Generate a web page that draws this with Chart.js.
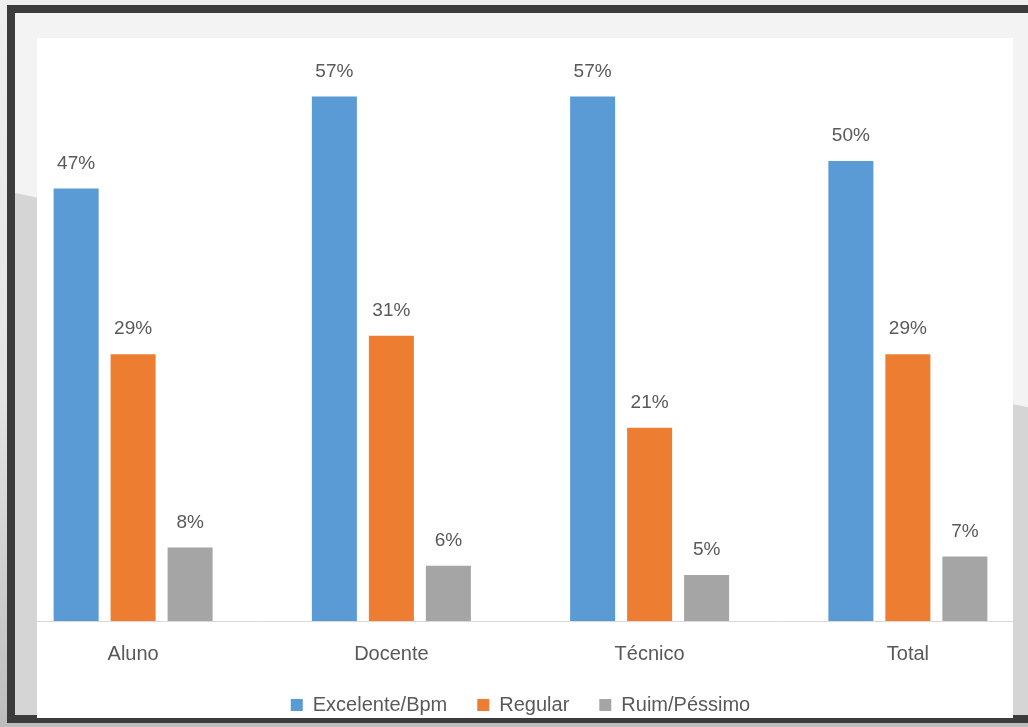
<!DOCTYPE html>
<html>
<head>
<meta charset="utf-8">
<script src="https://cdn.jsdelivr.net/npm/chart.js@4.4.0/dist/chart.umd.min.js"></script>
<style>
  html, body { margin: 0; padding: 0; }
  body {
    width: 1028px; height: 727px; overflow: hidden; position: relative;
    background: linear-gradient(to bottom, #efefef 0%, #e4e4e4 55%, #bcbcbc 100%);
  }
  #frame {
    position: absolute; left: 7px; top: 5px; width: 1040px; height: 702px;
    border: 8px solid #3c3c3c; background: #f3f3f3; overflow: hidden;
  }
  #shade {
    position: absolute; left: 0; top: 0; width: 100%; height: 100%;
    background: #d5d5d5;
    clip-path: polygon(0 180px, 1040px 400px, 1040px 702px, 0 702px);
  }
  #plot {
    position: absolute; left: 37px; top: 38px; width: 976px; height: 680px;
    background: #ffffff; overflow: hidden;
  }
  #plot canvas { position: absolute; left: -33px; top: 0; }
</style>
</head>
<body>
<div id="frame"><div id="shade"></div></div>
<div id="plot"><canvas id="chart" width="1033" height="687"></canvas></div>
<script>
// categories and values (percent)
const categories = ['Aluno', 'Docente', 'Técnico', 'Total'];
const excelente = [47, 57, 57, 50];
const regular = [29, 31, 21, 29];
const ruim = [8, 6, 5, 7];
const seriesNames = ['Excelente/Bpm', 'Regular', 'Ruim/Péssimo'];
const seriesColors = ['#5b9bd5', '#ed7d31', '#a5a5a5'];

const textColor = '#595959';
const fontFamily = '"Liberation Sans", Arial, sans-serif';

// draws the "47%" labels above each bar
const valueLabels = {
  id: 'valueLabels',
  afterDatasetsDraw(chart) {
    const ctx = chart.ctx;
    ctx.save();
    ctx.font = '19px ' + fontFamily;
    ctx.fillStyle = textColor;
    ctx.textAlign = 'center';
    ctx.textBaseline = 'middle';
    chart.data.datasets.forEach((ds, i) => {
      chart.getDatasetMeta(i).data.forEach((bar, j) => {
        ctx.fillText(ds.data[j] + '%', bar.x, bar.y - 25);
      });
    });
    ctx.restore();
  }
};

new Chart(document.getElementById('chart'), {
  type: 'bar',
  data: {
    labels: categories,
    datasets: [
      { label: seriesNames[0], data: excelente, backgroundColor: seriesColors[0] },
      { label: seriesNames[1], data: regular, backgroundColor: seriesColors[1] },
      { label: seriesNames[2], data: ruim, backgroundColor: seriesColors[2] }
    ]
  },
  options: {
    responsive: false,
    devicePixelRatio: 1,
    animation: false,
    categoryPercentage: 0.662,
    barPercentage: 0.79,
    layout: { padding: { top: 31, left: 0, right: 0, bottom: 0 } },
    scales: {
      x: {
        grid: { display: false, drawTicks: false },
        border: { display: true, color: '#d9d9d9', width: 1 },
        ticks: { color: textColor, padding: 21, font: { size: 20, family: fontFamily } },
        afterFit(scale) { scale.height = 44; }
      },
      y: {
        display: false,
        min: 0,
        max: 60
      }
    },
    plugins: {
      legend: {
        position: 'bottom',
        labels: {
          color: textColor,
          boxWidth: 12,
          boxHeight: 12,
          padding: 30,
          font: { size: 20, family: fontFamily }
        }
      },
      tooltip: { enabled: false }
    }
  },
  plugins: [valueLabels]
});
</script>
</body>
</html>
